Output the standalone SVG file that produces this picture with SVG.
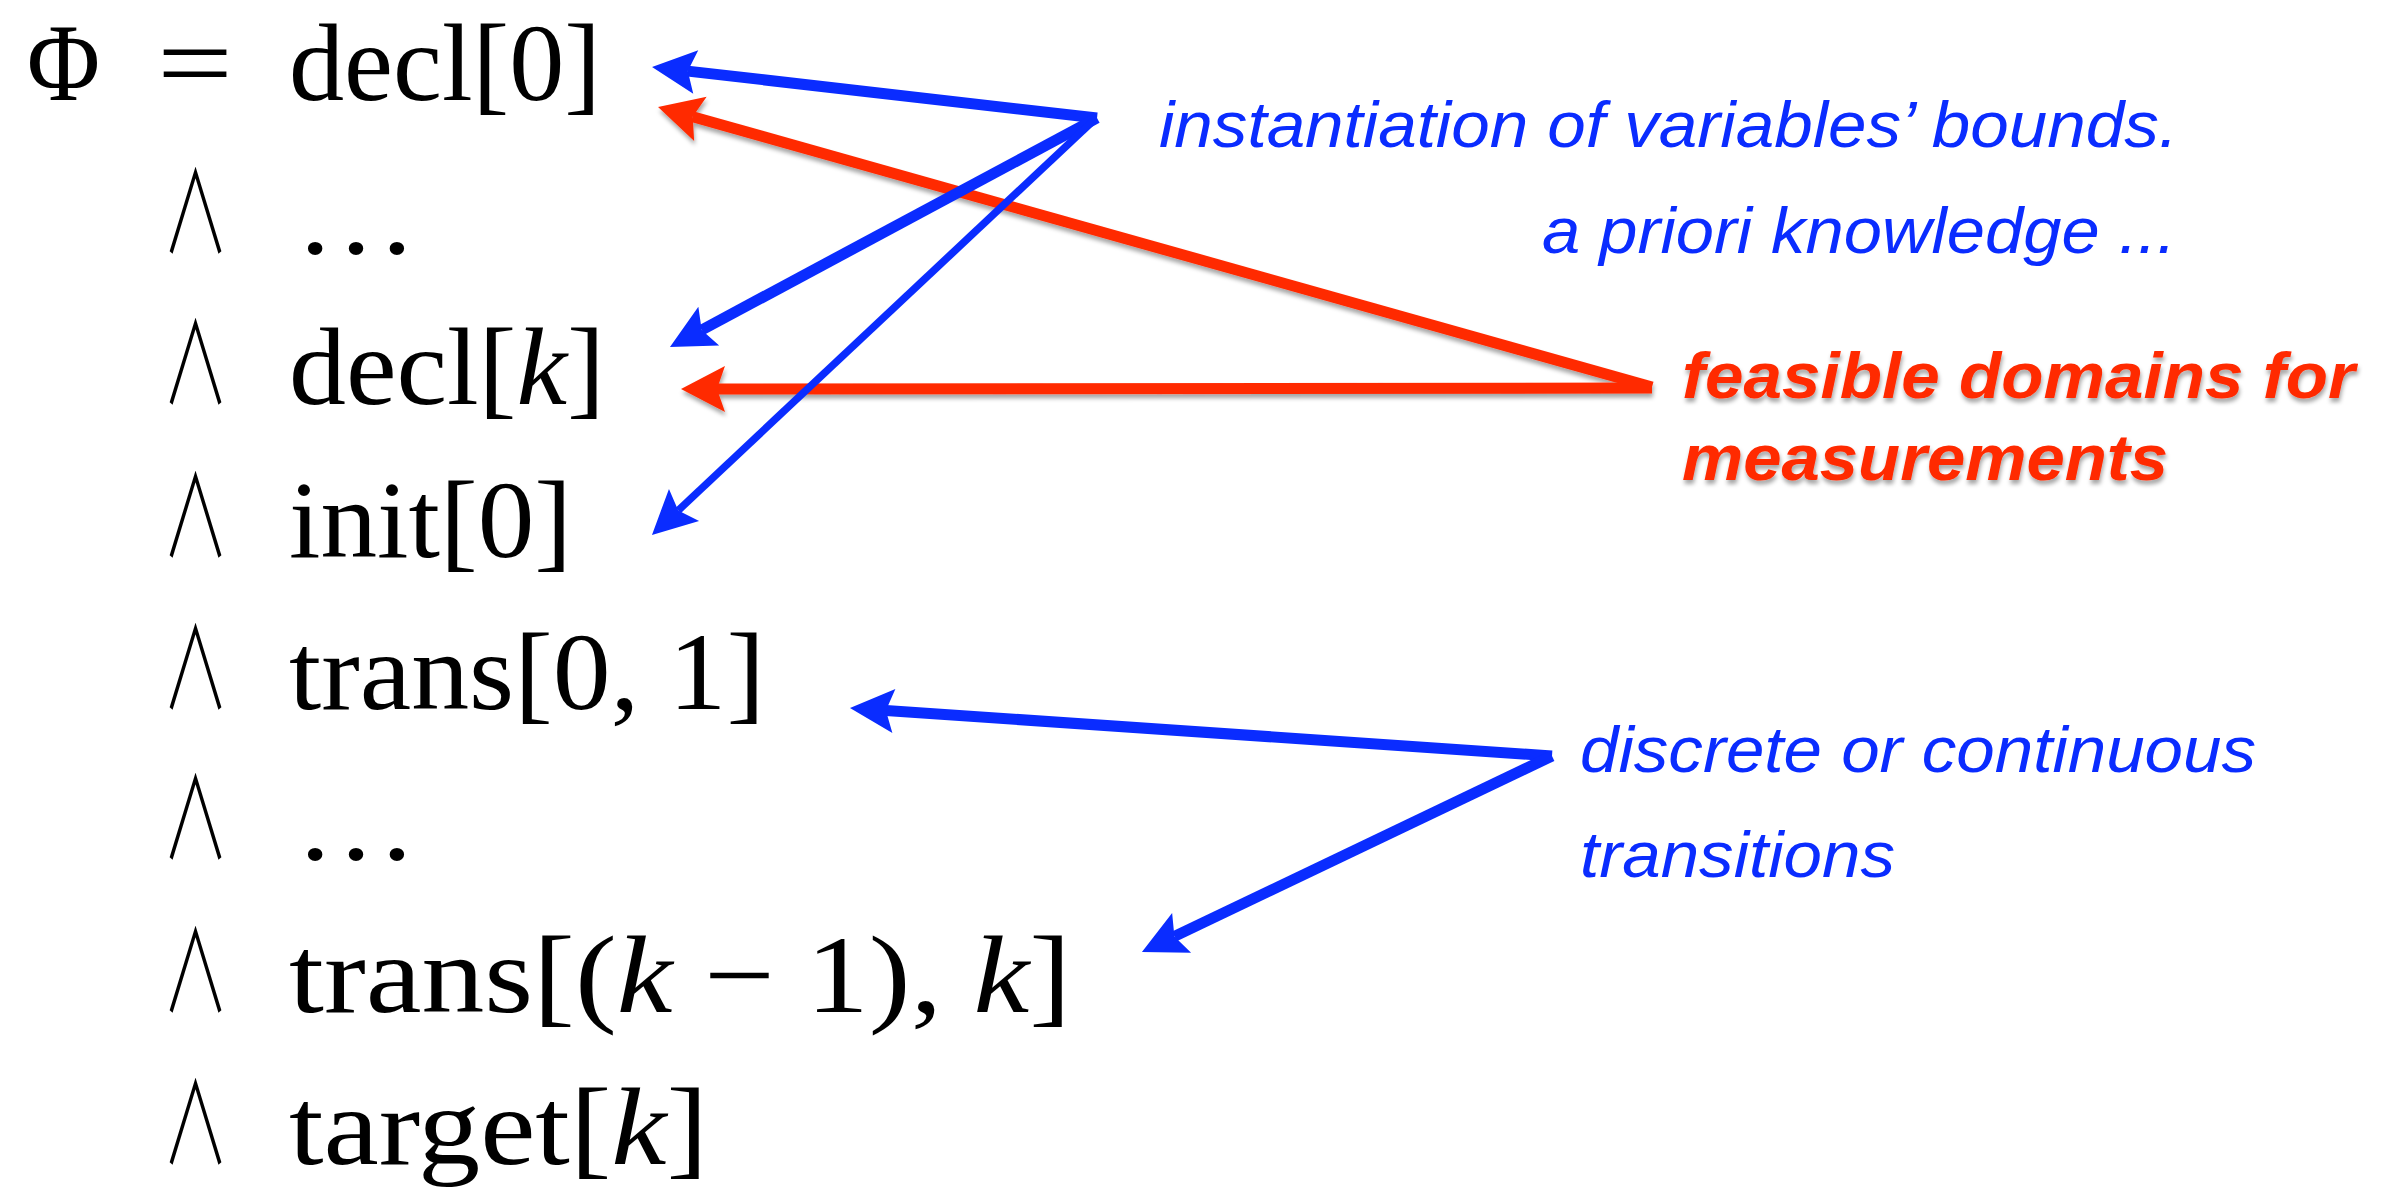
<svg xmlns="http://www.w3.org/2000/svg" width="2389" height="1188" viewBox="0 0 2389 1188">
<style>
.m{font-family:"Liberation Serif","DejaVu Serif",serif;font-size:110px;fill:#000}
.and{font-family:"Noto Sans CJK JP","DejaVu Sans",sans-serif;font-weight:300;font-size:112px;fill:#000}
.mi{font-style:italic}
.lb{font-family:"Liberation Sans",Arial,sans-serif;font-style:italic;font-size:64px;fill:#0a2cff}
.lr{font-family:"Liberation Sans",Arial,sans-serif;font-style:italic;font-weight:bold;font-size:64px;fill:#ff2a00}
.cb{stroke:#0a2cff;stroke-width:11;fill:none}
.cbt{stroke:#0a2cff;stroke-width:7.5;fill:none}
.cr{stroke:#ff2a00;stroke-width:11;fill:none}
</style>
<defs>
<marker id="hb" markerUnits="userSpaceOnUse" markerWidth="90" markerHeight="90" refX="0" refY="0" orient="auto" overflow="visible">
<path d="M36,0 L-8,-22 L0,0 L-8,22 Z" fill="#0a2cff"/>
</marker>
<marker id="hr" markerUnits="userSpaceOnUse" markerWidth="90" markerHeight="90" refX="0" refY="0" orient="auto" overflow="visible">
<path d="M36,0 L-8,-23 L0,0 L-8,23 Z" fill="#ff2a00"/>
</marker>
<filter id="sh" x="-10%" y="-50%" width="120%" height="200%">
<feDropShadow dx="1" dy="4" stdDeviation="2" flood-color="#000" flood-opacity="0.35"/>
</filter>
</defs>
<rect width="2389" height="1188" fill="#fff"/>
<g id="line-phi">
<text class="m" x="27" y="100" font-size="118" textLength="73" lengthAdjust="spacingAndGlyphs">Φ</text>
<text class="m" x="157" y="100" textLength="76" lengthAdjust="spacingAndGlyphs">=</text>
<text class="m" x="289" y="100" textLength="312" lengthAdjust="spacingAndGlyphs">decl[0]</text>
</g>
<g id="line-dots1">
<text class="and" x="162" y="253" textLength="67" lengthAdjust="spacingAndGlyphs">∧</text>
<text class="m" x="295" y="253" textLength="122" lengthAdjust="spacingAndGlyphs">…</text>
</g>
<g id="line-declk">
<text class="and" x="162" y="404" textLength="67" lengthAdjust="spacingAndGlyphs">∧</text>
<text class="m" x="289" y="404" textLength="316" lengthAdjust="spacingAndGlyphs">decl[<tspan class="mi">k</tspan>]</text>
</g>
<g id="line-init">
<text class="and" x="162" y="557" textLength="67" lengthAdjust="spacingAndGlyphs">∧</text>
<text class="m" x="289" y="557" textLength="283" lengthAdjust="spacingAndGlyphs">init[0]</text>
</g>
<g id="line-trans01">
<text class="and" x="162" y="709" textLength="67" lengthAdjust="spacingAndGlyphs">∧</text>
<text class="m" x="289" y="709" textLength="476" lengthAdjust="spacingAndGlyphs">trans[0, 1]</text>
</g>
<g id="line-dots2">
<text class="and" x="162" y="859" textLength="67" lengthAdjust="spacingAndGlyphs">∧</text>
<text class="m" x="295" y="859" textLength="122" lengthAdjust="spacingAndGlyphs">…</text>
</g>
<g id="line-transk">
<text class="and" x="162" y="1012" textLength="67" lengthAdjust="spacingAndGlyphs">∧</text>
<text class="m" x="289" y="1012" textLength="782" lengthAdjust="spacingAndGlyphs">trans[(<tspan class="mi">k</tspan> − 1), <tspan class="mi">k</tspan>]</text>
</g>
<g id="line-target">
<text class="and" x="162" y="1164" textLength="67" lengthAdjust="spacingAndGlyphs">∧</text>
<text class="m" x="289" y="1164" textLength="419" lengthAdjust="spacingAndGlyphs">target[<tspan class="mi">k</tspan>]</text>
</g>
<g id="label-bounds">
<text class="lb" x="1159" y="147" textLength="1019" lengthAdjust="spacingAndGlyphs">instantiation of variables’ bounds.</text>
<text class="lb" x="1542" y="253" textLength="634" lengthAdjust="spacingAndGlyphs">a priori knowledge ...</text>
</g>
<g id="label-feasible" filter="url(#sh)">
<text class="lr" x="1682" y="398" textLength="673" lengthAdjust="spacingAndGlyphs">feasible domains for</text>
<text class="lr" x="1682" y="480" textLength="486" lengthAdjust="spacingAndGlyphs">measurements</text>
</g>
<g id="label-transitions">
<text class="lb" x="1580" y="772" textLength="676" lengthAdjust="spacingAndGlyphs">discrete or continuous</text>
<text class="lb" x="1580" y="877" textLength="315" lengthAdjust="spacingAndGlyphs">transitions</text>
</g>
<g id="connectors">
<g filter="url(#sh)">
<line class="cr" x1="1652" y1="387" x2="692.7" y2="116.8" marker-end="url(#hr)"/>
<line class="cr" x1="1652" y1="388" x2="717" y2="389" marker-end="url(#hr)"/>
</g>
<line class="cb" x1="1097" y1="118" x2="687.8" y2="71.1" marker-end="url(#hb)"/>
<line class="cb" x1="1097" y1="118" x2="701.7" y2="330" marker-end="url(#hb)"/>
<line class="cbt" x1="1093" y1="121" x2="678.2" y2="510.4" marker-end="url(#hb)"/>
<line class="cb" x1="1552" y1="756" x2="885.9" y2="710.5" marker-end="url(#hb)"/>
<line class="cb" x1="1552" y1="756" x2="1174.4" y2="936.4" marker-end="url(#hb)"/>
</g>
</svg>
